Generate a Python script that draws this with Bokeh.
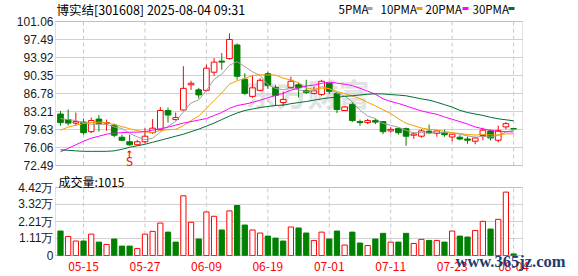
from bokeh.plotting import figure
from bokeh.models import Range1d, FixedTicker, CustomJSTickFormatter, Label, BoxAnnotation, ColumnDataSource
from bokeh.layouts import column
from bokeh.embed import file_html
from bokeh.resources import INLINE
from bokeh.core.properties import value

# ---------------- data ----------------
title_text = "博实结[301608] 2025-08-04 09:31"
volume_title = "成交量:1015"
watermark_text = "东方财富"
site_text = "www.365jz.com"
tick_idx = [3, 11, 19, 27, 35, 43, 51, 59]
tick_labels = ["05-15", "05-27", "06-09", "06-19", "07-01", "07-11", "07-23", "08-04"]
price_ticks = [72.49, 76.06, 79.63, 83.21, 86.78, 90.35, 93.92, 97.49, 101.06]
vol_ticks = [0, 1.11, 2.21, 3.32, 4.42]

opens = [82.7, 81.6, 80.9, 81.1, 79.2, 81.7, 80.9, 80.5, 78.1, 77.2,
         76.6, 77.2, 79.0, 79.6, 83.4, 81.6, 83.5, 88.5, 87.5, 87.4,
         91.0, 93.2, 93.7, 96.4, 89.6, 86.2, 87.4, 90.7, 88.0, 85.0,
         88.0, 88.5, 87.4, 86.8, 86.6, 88.8, 86.8, 83.4, 84.6, 81.2,
         81.0, 81.4, 81.2, 79.35, 79.85, 79.8, 78.5, 78.3, 79.3, 78.85,
         79.0, 78.15, 78.1, 77.75, 77.3, 78.45, 79.35, 77.5, 80.15, 79.8]
highs = [83.3, 83.6, 83.0, 81.8, 82.0, 82.5, 81.6, 80.8, 78.6, 78.6,
         77.6, 79.9, 81.7, 84.1, 84.0, 83.0, 92.2, 89.3, 87.9, 92.5,
         93.8, 94.8, 98.7, 96.7, 90.8, 90.4, 89.8, 91.1, 88.5, 87.2,
         90.1, 88.9, 89.5, 88.2, 89.5, 88.9, 87.1, 84.2, 85.1, 81.6,
         81.75, 81.75, 81.3, 80.1, 80.0, 80.0, 79.1, 79.7, 80.6, 79.5,
         79.6, 78.7, 78.5, 78.25, 78.2, 80.0, 79.6, 80.4, 81.1, 79.8]
lows = [80.4, 80.4, 80.4, 78.6, 78.9, 79.2, 79.4, 78.1, 77.3, 76.4,
        76.4, 76.9, 78.8, 79.4, 81.0, 81.4, 83.4, 87.5, 85.8, 87.2,
        90.3, 91.5, 93.5, 89.5, 86.5, 85.9, 87.2, 87.7, 84.3, 84.3,
        87.7, 86.0, 86.7, 86.6, 86.3, 86.7, 82.9, 83.3, 81.1, 80.4,
        80.7, 80.7, 78.7, 79.0, 78.6, 76.4, 77.8, 78.0, 78.7, 78.2,
        78.2, 77.3, 77.5, 76.8, 76.7, 77.5, 77.45, 77.1, 79.7, 79.7]
closes = [81.0, 80.9, 81.2, 79.0, 81.4, 80.8, 81.0, 78.5, 77.5, 76.6,
          77.2, 78.3, 79.9, 83.4, 82.5, 82.0, 87.8, 88.8, 86.5, 91.8,
          93.0, 93.0, 97.5, 90.2, 86.8, 87.9, 89.4, 88.4, 86.4, 85.6,
          89.2, 87.9, 87.0, 87.3, 89.2, 87.2, 83.6, 84.1, 81.4, 81.0,
          81.4, 81.1, 79.2, 79.65, 79.0, 78.3, 78.75, 79.35, 79.0, 79.35,
          78.6, 78.7, 77.75, 77.5, 77.95, 79.5, 77.95, 79.4, 80.8, 79.75]

ma5 = [81.8, 81.6, 81.4, 81.0, 80.7, 80.66, 80.68, 80.14, 79.84, 78.88,
       78.16, 77.62, 77.9, 79.08, 80.26, 81.22, 83.12, 84.9, 85.52, 87.38,
       89.58, 90.62, 92.36, 93.1, 92.1, 91.08, 90.36, 88.54, 87.78, 87.54,
       87.8, 87.5, 87.22, 87.4, 88.12, 87.72, 86.86, 86.28, 85.1, 83.46,
       82.3, 81.8, 80.82, 80.47, 80.07, 79.45, 78.98, 79.01, 78.88, 78.95,
       79.01, 79.0, 78.68, 78.38, 78.1, 78.28, 78.13, 78.46, 79.12, 79.48]
ma10 = [79.5, 80.1, 80.5, 80.8, 81.0, 81.1, 81.0, 80.6, 80.2, 79.79,
        79.41, 79.15, 79.02, 79.46, 79.57, 79.69, 80.37, 81.4, 82.3, 83.82,
        85.4, 86.87, 88.63, 89.31, 89.74, 90.33, 90.49, 90.45, 90.44, 89.82,
        89.44, 88.93, 87.88, 87.59, 87.83, 87.76, 87.18, 86.75, 86.25, 85.79,
        85.01, 84.33, 83.55, 82.79, 81.77, 80.88, 80.39, 79.92, 79.68, 79.51,
        79.23, 78.99, 78.85, 78.63, 78.53, 78.65, 78.57, 78.57, 78.75, 78.79]
ma20 = [75.2, 75.9, 76.6, 77.3, 77.9, 78.3, 78.7, 78.9, 79.0, 79.1,
        79.1, 79.2, 79.5, 79.8, 80.1, 80.5, 80.9, 81.2, 81.5, 81.81,
        82.41, 83.01, 83.83, 84.39, 84.66, 85.01, 85.43, 85.93, 86.37, 86.82,
        87.42, 87.9, 88.26, 88.45, 88.79, 89.05, 88.84, 88.6, 88.35, 87.81,
        87.23, 86.63, 85.72, 85.19, 84.8, 84.32, 83.79, 83.33, 82.96, 82.65,
        82.12, 81.66, 81.2, 80.71, 80.15, 79.76, 79.48, 79.24, 79.21, 79.15]
ma30 = [75.6, 75.5, 75.4, 75.3, 75.3, 75.3, 75.3, 75.4, 75.7, 76.1,
        76.4, 76.7, 77.1, 77.5, 77.9, 78.3, 78.7, 79.2, 79.7, 80.3,
        80.9, 81.6, 82.3, 82.9, 83.4, 83.7, 84.0, 84.2, 84.4, 84.48,
        84.75, 84.98, 85.18, 85.45, 85.71, 85.93, 86.01, 86.2, 86.33, 86.48,
        86.62, 86.71, 86.69, 86.56, 86.45, 86.32, 86.02, 85.71, 85.46, 85.04,
        84.56, 84.08, 83.43, 83.0, 82.71, 82.43, 82.05, 81.75, 81.56, 81.36]

# volume in 万 (10k shares)
volume = [1.59, 1.24, 0.94, 0.94, 1.39, 0.87, 0.72, 1.07, 0.61, 0.61,
          0.46, 1.39, 1.57, 2.11, 1.52, 0.87, 3.88, 2.16, 1.07, 2.83,
          2.55, 1.66, 2.90, 3.25, 1.98, 1.66, 1.46, 1.26, 1.13, 0.94,
          1.85, 1.79, 1.46, 0.98, 1.52, 1.07, 1.59, 0.68, 1.52, 0.81,
          0.65, 1.07, 1.44, 0.87, 0.87, 1.44, 0.78, 1.05, 0.98, 0.98,
          0.87, 1.59, 1.26, 1.20, 1.63, 2.22, 1.72, 2.35, 4.12, 0.1015]
volume_up = [0, 1, 1, 0, 1, 0, 1, 0, 0, 0,
             1, 1, 1, 1, 0, 0, 1, 1, 0, 1,
             1, 0, 1, 0, 0, 1, 1, 0, 0, 0,
             1, 0, 0, 1, 1, 0, 0, 1, 0, 0,
             1, 0, 0, 1, 0, 0, 1, 1, 0, 1,
             0, 1, 0, 0, 1, 1, 0, 1, 1, 0]

signal_idx = [9]
signal_text = ["S"]

ma_names = ["5PMA", "10PMA", "20PMA", "30PMA"]

# ---------------- styles / layout ----------------
RED = "#ff0000"
GREEN = "#008000"
ma_colors = ["#a0a0a0", "#f0a000", "#ff00ff", "#006f35"]
CJK = "Noto Sans CJK SC"
FRAME = "#9a9a9a"
HGRID = "#d0d0d0"
VGRID = "#c8c8c8"

PX = 7.68                      # pixels per candle slot
box_left, box_right = -0.65, 60.16
xr = Range1d(box_left - 1 / PX, box_right + 56 / PX)

H1 = 173                       # height of the price panel (canvas rows 0..173)
H2 = 276 - H1                  # volume panel

n = len(closes)
idx = list(range(n))
up = [c > o for o, c in zip(opens, closes)]


def style_yaxis(p, ticks, code):
    p.yaxis.ticker = FixedTicker(ticks=ticks)
    p.yaxis.formatter = CustomJSTickFormatter(code=code)
    p.yaxis.axis_line_color = None
    p.yaxis.major_tick_line_color = None
    p.yaxis.minor_tick_line_color = None
    p.yaxis.major_tick_out = 0
    p.yaxis.major_tick_in = 0
    p.yaxis.major_label_standoff = 1
    p.yaxis.major_label_text_font = "Liberation Sans"
    p.yaxis.major_label_text_font_size = "12px"
    p.yaxis.major_label_text_color = "#1a1a1a"
    p.xgrid.visible = False
    p.ygrid.visible = False
    p.outline_line_color = None


def grid_lines(p, yticks):
    k = len(tick_idx)
    p.segment(x0=tick_idx, x1=tick_idx, y0=[yticks[0]] * k, y1=[yticks[-1]] * k,
              line_color=VGRID, line_width=1, line_dash="4 3")
    m = len(yticks)
    p.segment(x0=[box_left] * m, x1=[box_right] * m, y0=yticks, y1=yticks,
              line_color=HGRID, line_width=1)


# ---------------- price panel ----------------
# price px scale: 101.06 at y=21, 72.49 at y=165 (canvas)
pscale = 144 / (price_ticks[-1] - price_ticks[0])
p1 = figure(width=578, height=H1, x_range=xr,
            y_range=Range1d(price_ticks[0] - (H1 - 165) / pscale, price_ticks[-1] + 21 / pscale),
            output_backend="svg", toolbar_location=None, x_axis_location=None,
            min_border_left=54, min_border_right=0, min_border_top=0, min_border_bottom=0)
style_yaxis(p1, price_ticks, "return tick.toFixed(2);")
grid_lines(p1, price_ticks)

p1.add_layout(Label(x=191, y=H1 - 92, x_units="screen", y_units="screen", text=watermark_text,
                    text_font=CJK, text_font_size="31px", text_font_style="bold",
                    text_color="#e2e2e2", text_baseline="middle", level="underlay"))

candle_color = [RED if u else GREEN for u in up]
body_fill = ["white" if u else GREEN for u in up]
src = ColumnDataSource(dict(
    x=idx, o=opens, h=highs, l=lows, c=closes,
    top=[max(o, c) for o, c in zip(opens, closes)],
    bot=[min(o, c) for o, c in zip(opens, closes)],
    col=candle_color, fill=body_fill))
p1.segment(x0="x", y0="l", x1="x", y1="h", line_color="col", line_width=1, source=src)
p1.vbar(x="x", top="top", bottom="bot", width=0.74, fill_color="fill",
        line_color="col", line_width=1, source=src)

for ma, col in zip([ma5, ma10, ma20, ma30], ma_colors):
    p1.line(idx, ma, line_color=col, line_width=1)

sig_low = [lows[i] for i in signal_idx]
p1.text(x=signal_idx, y=sig_low, text=["↑"] * len(signal_idx), text_color=RED,
        text_font=value("DejaVu Sans"), text_font_size="9px", text_font_style="bold",
        text_align="center", text_baseline="top", y_offset=3)
p1.text(x=signal_idx, y=sig_low, text=signal_text, text_color=RED,
        text_font=value("DejaVu Sans Mono"), text_font_size="12px",
        text_align="center", text_baseline="top", y_offset=9)

p1.add_layout(BoxAnnotation(left=box_left, right=box_right,
                            bottom=price_ticks[0], top=price_ticks[-1],
                            fill_color=None, line_color=FRAME, line_width=1))

p1.add_layout(Label(x=2, y=H1 - 9, x_units="screen", y_units="screen", text=title_text,
                    text_font=CJK, text_font_size="12.5px", text_color="#000000",
                    text_baseline="middle"))

legend_text_x = [284, 326, 371, 418]
legend_swatch_x = [312, 362, 408, 454]
for name, col, tx, sx in zip(ma_names, ma_colors, legend_text_x, legend_swatch_x):
    p1.add_layout(Label(x=tx, y=H1 - 8, x_units="screen", y_units="screen", text=name,
                        text_font=CJK, text_font_size="11.5px", text_color="#000000",
                        text_baseline="middle"))
    p1.add_layout(BoxAnnotation(left=sx, right=sx + 6, bottom=H1 - 9.5, top=H1 - 6.5,
                                left_units="screen", right_units="screen",
                                bottom_units="screen", top_units="screen",
                                fill_color=col, fill_alpha=1, line_color=None))

# ---------------- volume panel ----------------
# volume px scale: 4.42 at y=187, 0 at y=255 (canvas)
vscale = 68 / (vol_ticks[-1] - vol_ticks[0])
p2 = figure(width=578, height=H2, x_range=xr,
            y_range=Range1d(vol_ticks[0] - 21 / vscale, vol_ticks[-1] + (187 - H1) / vscale),
            output_backend="svg", toolbar_location=None, x_axis_location=None,
            min_border_left=54, min_border_right=0, min_border_top=0, min_border_bottom=0)
style_yaxis(p2, vol_ticks, "return tick == 0 ? '0' : tick.toFixed(2) + '万';")
grid_lines(p2, vol_ticks)

vsrc = ColumnDataSource(dict(
    x=idx, v=volume,
    col=[RED if u else GREEN for u in volume_up],
    fill=["white" if u else GREEN for u in volume_up]))
p2.vbar(x="x", top="v", bottom=vol_ticks[0], width=0.68, fill_color="fill",
        line_color="col", line_width=1, source=vsrc)

p2.add_layout(BoxAnnotation(left=box_left, right=box_right,
                            bottom=vol_ticks[0], top=vol_ticks[-1],
                            fill_color=None, line_color=FRAME, line_width=1))

# date labels under the volume panel
p2.text(x=tick_idx, y=[vol_ticks[0]] * len(tick_idx), text=tick_labels,
        text_color=RED, text_font=value(CJK), text_font_size="12px",
        text_align="center", text_baseline="middle", y_offset=11)

p2.add_layout(Label(x=4, y=276 - 180.5, x_units="screen", y_units="screen", text=volume_title,
                    text_font=CJK, text_font_size="12px", text_color="#000000",
                    text_baseline="middle"))
p2.add_layout(Label(x=401, y=15, x_units="screen", y_units="screen", text=site_text,
                    text_font="Liberation Serif", text_font_size="16.5px", text_font_style="bold",
                    text_color="#1e3a6e", text_baseline="middle", level="overlay"))

layout = column(p1, p2, spacing=0)
open("out.html", "w").write(file_html(layout, INLINE))
